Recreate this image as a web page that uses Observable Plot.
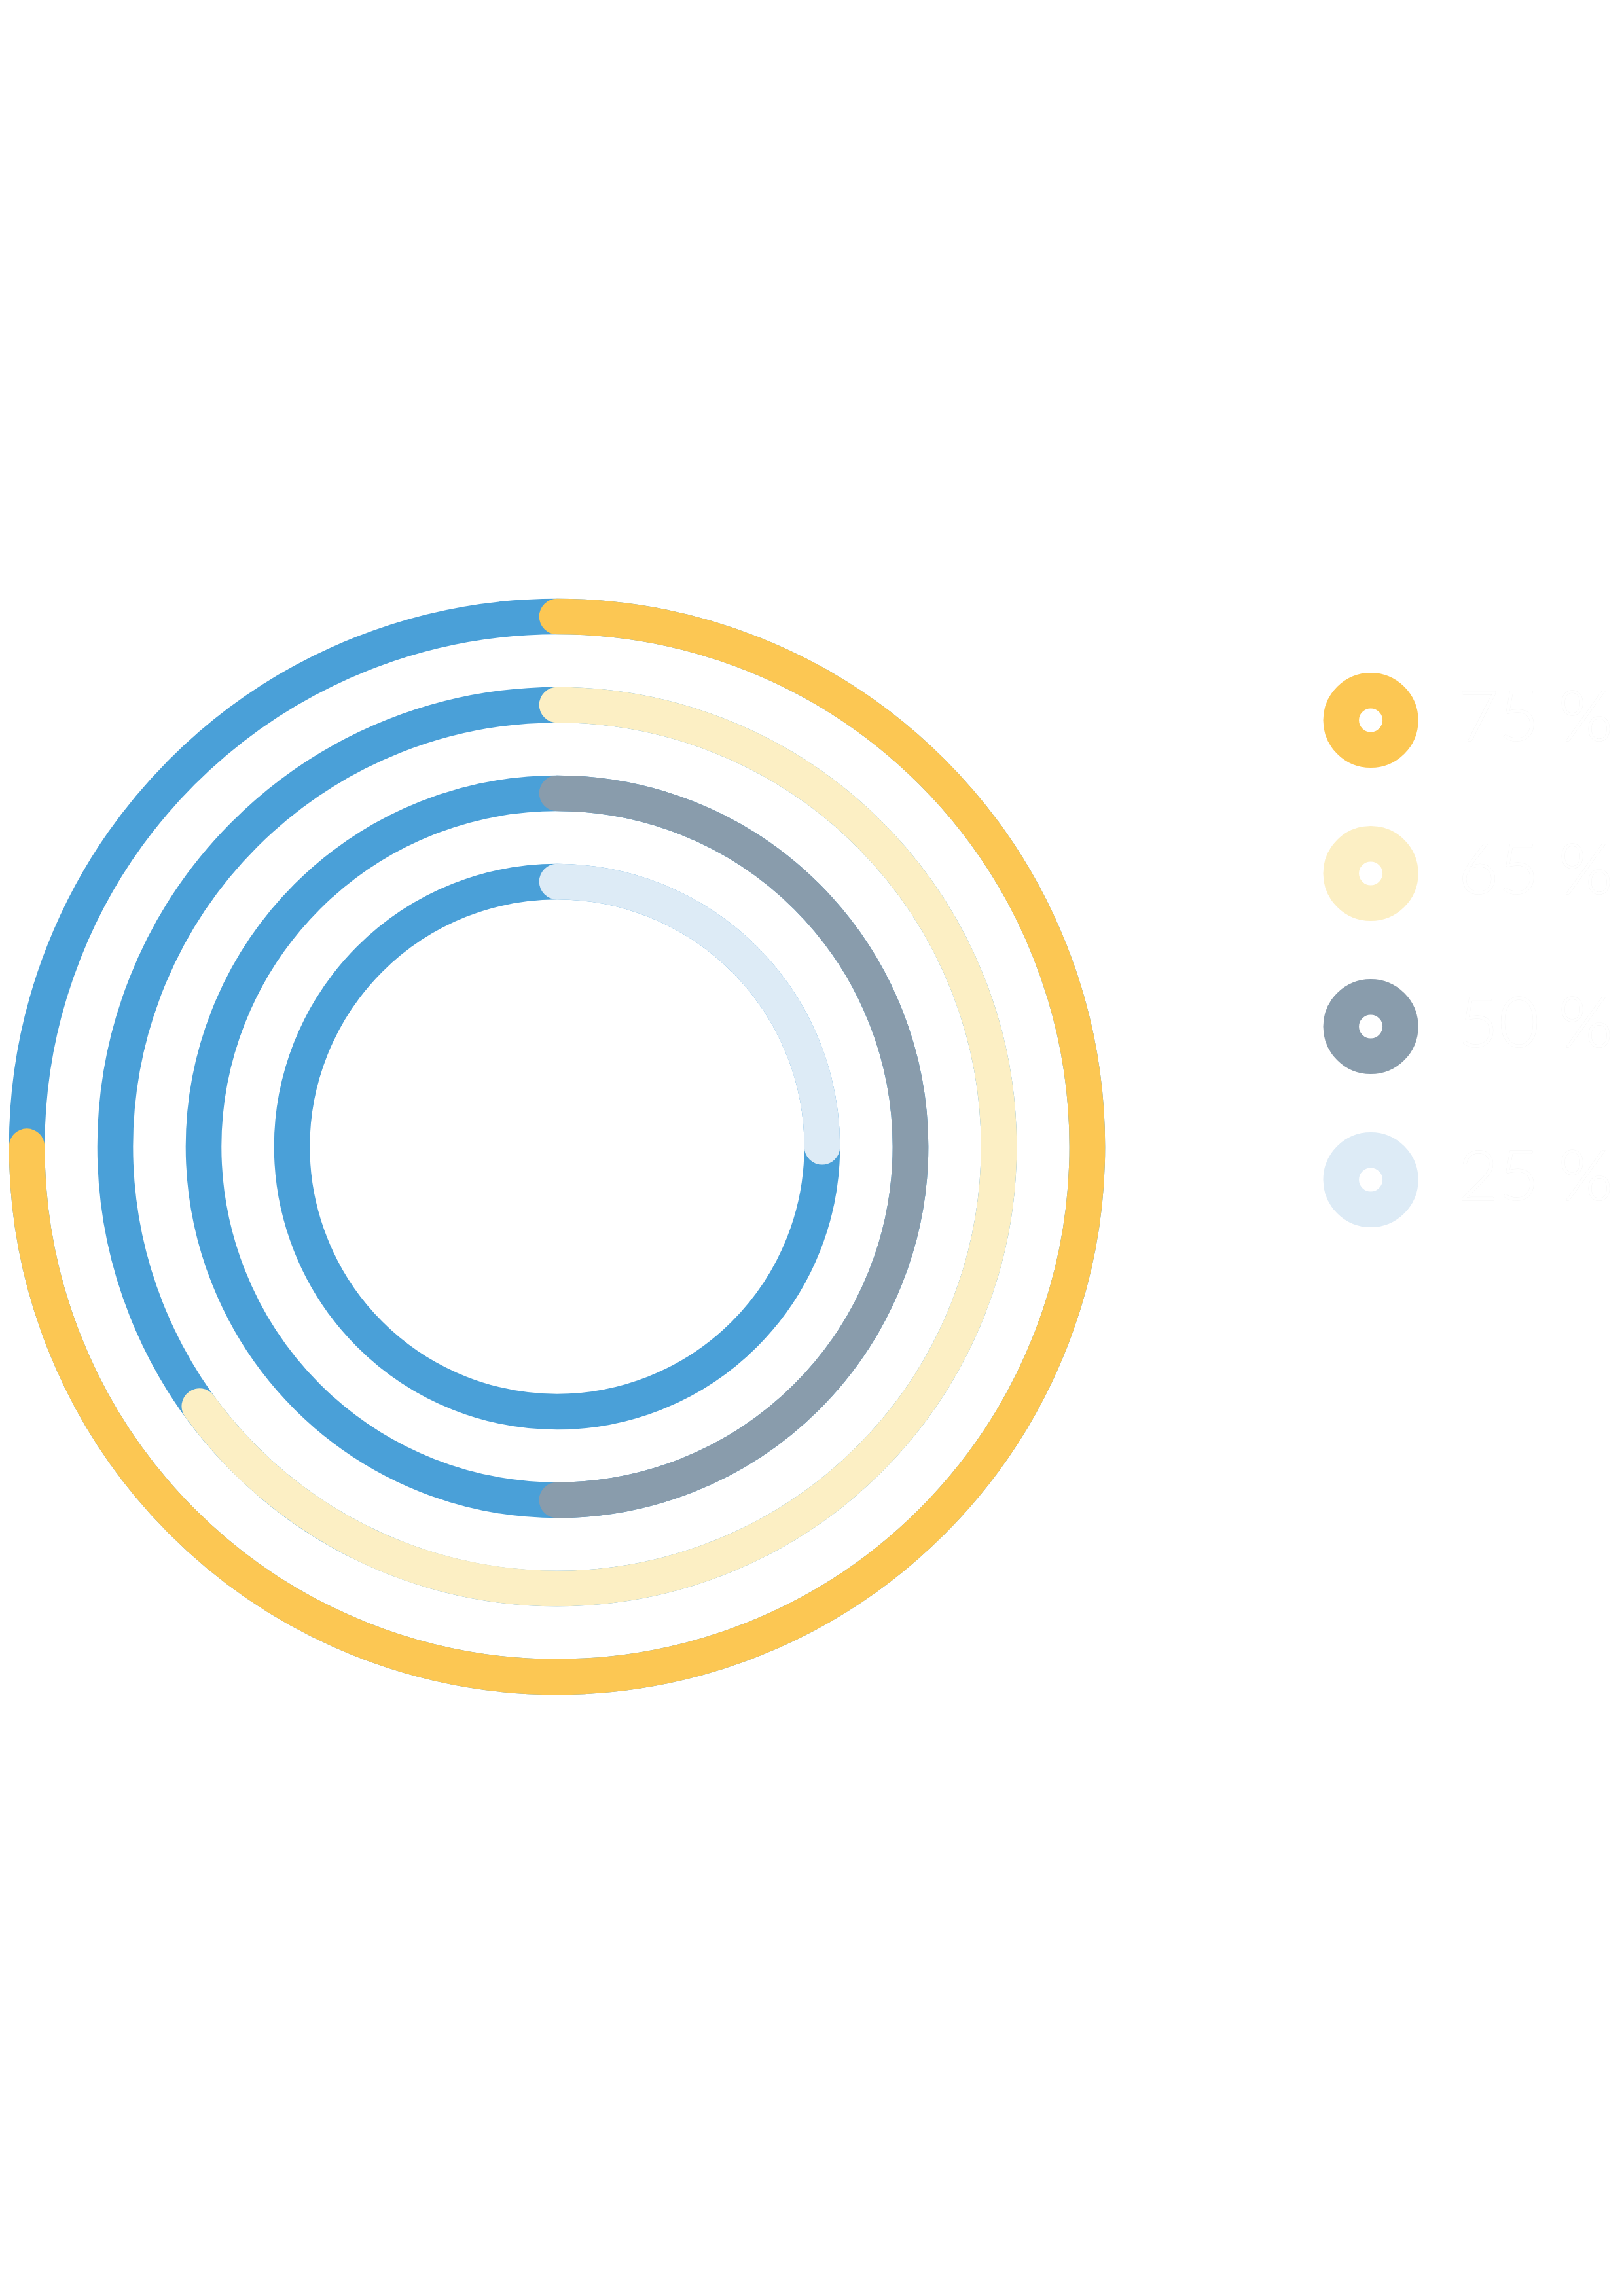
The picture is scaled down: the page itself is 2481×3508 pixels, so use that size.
<!DOCTYPE html>
<html>
<head>
<meta charset="utf-8">
<script src="https://cdn.jsdelivr.net/npm/d3@7"></script>
<script src="https://cdn.jsdelivr.net/npm/@observablehq/plot@0.6"></script>
<style>
  html, body { margin: 0; padding: 0; background: #ffffff; }
  #page { position: relative; width: 2481px; height: 3508px; overflow: hidden; background: #ffffff; }
  #chart { position: absolute; left: 0px; top: 901px; }
  #legend { position: absolute; left: 1980px; top: 0px; }
  svg { max-width: none !important; }
</style>
</head>
<body>
<div id="page">
  <div id="chart"></div>
  <div id="legend"></div>
</div>
<script>
// ---- data ----
const categories = ["75 %", "65 %", "50 %", "25 %"];
const values = [75, 65, 50, 25];

// ---- styles ----
const palette = ["#FCC753", "#FCEFC4", "#899CAC", "#DDEBF6"];
const trackColor = "#4AA0D8";
const ringWidth = 54.6;

const rings = categories.map((label, i) => ({label, value: values[i], order: i}));

// ---- main concentric progress rings ----
const chart = Plot.plot({
  width: 1701,
  height: 1701,
  margin: 0,
  style: {background: "transparent", overflow: "visible"},
  x: {domain: [-1, 1], axis: null},
  y: {domain: [-1, 1], axis: null},
  r: {type: "linear", domain: [0, 3], range: [810, 405]},
  color: {domain: categories, range: palette},
  marks: [
    // full blue track for each ring
    Plot.dot(rings, {x: 0, y: 0, r: "order", stroke: trackColor, strokeWidth: ringWidth, fill: "none"}),
    // coloured progress arc (dash set below from each circle's radius)
    Plot.dot(rings, {
      x: 0, y: 0, r: "order",
      stroke: "label", strokeWidth: ringWidth, fill: "none",
      strokeLinecap: "round",
      ariaLabel: d => String(d.value)
    })
  ]
});

d3.select(chart).selectAll("circle[aria-label]").each(function () {
  const el = d3.select(this);
  const r = +el.attr("r");
  const cx = +el.attr("cx") || 0;
  const cy = +el.attr("cy") || 0;
  const v = +el.attr("aria-label");
  const C = 2 * Math.PI * r;
  el.attr("stroke-dasharray", `${(v / 100) * C} ${C}`)
    .attr("stroke-linecap", "round")
    .attr("transform", `rotate(-90 ${cx} ${cy})`);
});

document.getElementById("chart").appendChild(chart);

// ---- legend ----
const legend = Plot.plot({
  width: 501,
  height: 3508,
  margin: 0,
  style: {background: "transparent", overflow: "visible"},
  x: {domain: [0, 1], range: [113.6, 247], axis: null},
  y: {type: "point", domain: categories, range: [1098.4, 1802.6], padding: 0, axis: null},
  color: {domain: categories, range: palette},
  marks: [
    Plot.dot(categories, {x: 0, y: d => d, r: 45.3, stroke: d => d, strokeWidth: ringWidth, fill: "white"}),
    Plot.text(categories, {
      x: 1, y: d => d, text: d => d,
      textAnchor: "start", lineAnchor: "middle",
      fontSize: 107, fontFamily: "Lato", fontWeight: 300,
      fill: "#ffffff", stroke: "#f4f4f4", strokeWidth: 0.8, dy: -3
    })
  ]
});
document.getElementById("legend").appendChild(legend);
</script>
</body>
</html>
